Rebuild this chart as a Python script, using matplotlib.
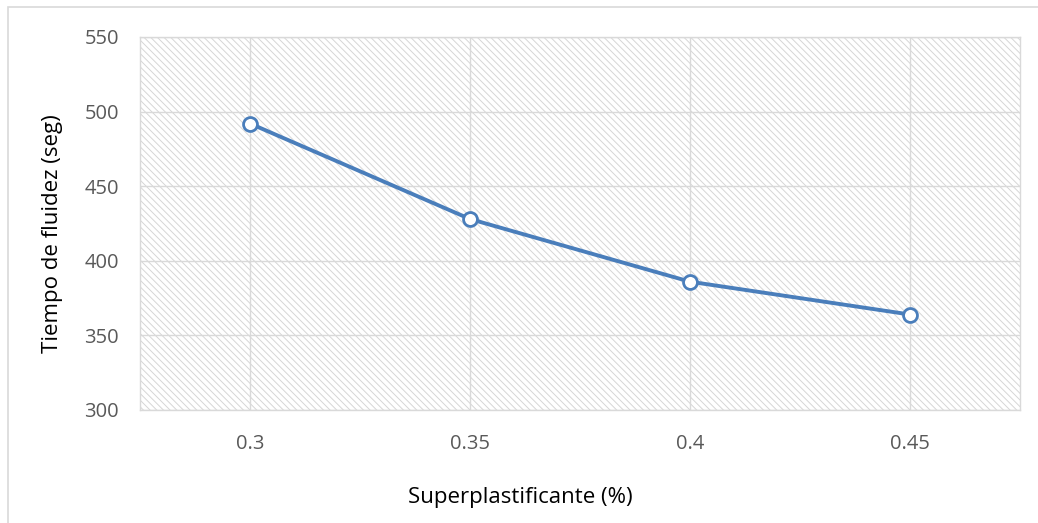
import matplotlib.pyplot as plt
from matplotlib.patches import Rectangle

# datos
superplastificante = [0.3, 0.35, 0.4, 0.45]
tiempo_fluidez = [492, 428, 386, 364]
x_labels = ["0.3", "0.35", "0.4", "0.45"]

plt.rcParams['font.family'] = ['Open Sans', 'DejaVu Sans']
plt.rcParams['hatch.linewidth'] = 0.7

fig = plt.figure(figsize=(10.38, 5.23), dpi=100)
ax = fig.add_axes([140/1038, 1 - 410/523, 880/1038, 373/523])

# borde exterior del grafico
fig.patches.append(Rectangle((8/1038, -0.1), 1.2, 1 - 7/523 + 0.1,
                             transform=fig.transFigure, fill=False,
                             edgecolor='#d9d9d9', linewidth=1.2))

# fondo rayado del area de trazado
ax.add_patch(Rectangle((0, 0), 1, 1, transform=ax.transAxes, facecolor='white',
                       edgecolor='#d6d6d6', linewidth=0, hatch='\\\\\\\\\\', zorder=0))

pos = list(range(len(superplastificante)))
ax.plot(pos, tiempo_fluidez, color='#4a7ebb', linewidth=2.8, marker='o',
        markersize=10, markerfacecolor='white', markeredgecolor='#4a7ebb',
        markeredgewidth=2, zorder=3)

ax.set_xlim(-0.5, len(pos) - 0.5)
ax.set_ylim(300, 550)
ax.set_yticks([300, 350, 400, 450, 500, 550])
ax.set_xticks(pos)
ax.set_xticklabels(x_labels)

ax.grid(True, color='#d9d9d9', linewidth=1, zorder=1)
ax.set_axisbelow(True)
for s in ax.spines.values():
    s.set_color('#d9d9d9')
    s.set_linewidth(1)

ax.tick_params(axis='both', length=0, labelsize=14.5, labelcolor='#595959')
ax.tick_params(axis='y', pad=15)
ax.tick_params(axis='x', pad=17)

# titulos de ejes (centrados en el area del grafico, como en Excel)
fig.text(520/1038, 1 - 498/523, "Superplastificante (%)", fontsize=16,
         color='black', ha='center', va='center')
fig.text(53/1038, 1 - 234/523, "Tiempo de fluidez (seg)", fontsize=16,
         color='black', ha='center', va='center', rotation=90)

fig.savefig("out.png", dpi=100)
